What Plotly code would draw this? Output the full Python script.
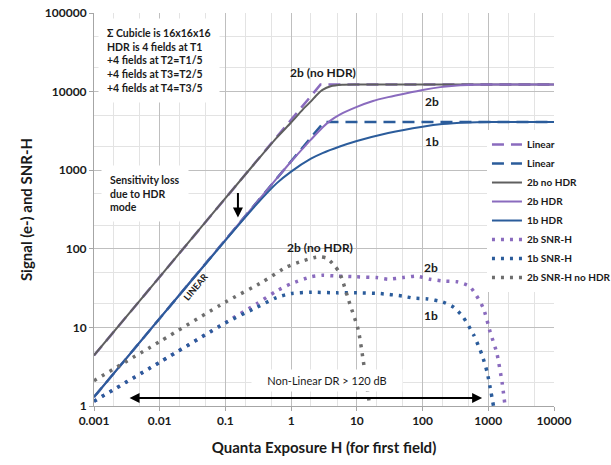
import plotly.graph_objects as go
import math

# ---------------- data ----------------
lin2b_H = [0.001, 2.8, 10000]
lin2b_S = [4.4, 12288, 12288]

lin1b_H = [0.001, 3.15, 10000]
lin1b_S = [1.3, 4096, 4096]

nohdr_H = [0.001, 0.01, 0.1, 0.3, 0.6, 1, 1.5, 2, 2.5, 3, 4, 6, 10, 20, 10000]
nohdr_S = [4.4, 44, 440, 1310, 2580, 4050, 5900, 7500, 9200, 10500, 11700, 12200, 12280, 12288, 12288]

hdr2b_H = [0.001, 0.01, 0.1, 0.3, 0.6, 1, 1.5, 2, 3, 4, 5.5, 10, 17.6, 30, 57, 100, 186, 335, 590, 1000, 10000]
hdr2b_S = [1.3, 13, 130, 390, 780, 1290, 1880, 2450, 3500, 4300, 5100, 6400, 7600, 8500, 9550, 10500, 11400, 12000, 12250, 12288, 12288]

hdr1b_H = [0.001, 0.01, 0.1, 0.3, 0.6, 1, 2, 3, 5.5, 10, 30, 100, 200, 500, 1000, 10000]
hdr1b_S = [1.3, 13, 128, 370, 680, 960, 1400, 1650, 2000, 2350, 2980, 3580, 3860, 4040, 4090, 4096]

snr2b_H = [0.001, 0.01, 0.1, 0.3, 0.6, 1, 2, 3, 5, 10, 20, 30, 50, 80, 130, 200, 335, 525, 830, 1070, 1350, 1620, 1800]
snr2b_S = [1.15, 3.6, 11.5, 20, 29, 36, 44, 46, 45, 44, 43, 41, 43, 45, 41, 39, 38, 33, 18, 8.7, 4.7, 2.0, 1.0]

snr1b_H = [0.001, 0.01, 0.1, 0.3, 0.6, 1, 2, 5, 10, 22, 50, 72, 120, 204, 300, 415, 600, 800, 960, 1100, 1200]
snr1b_S = [1.15, 3.6, 11.4, 18, 24, 27, 28, 27.5, 27.5, 27, 25, 23.6, 23, 21, 18, 13.5, 8, 4.5, 2.7, 1.5, 1.0]

snrnh_H = [0.001, 0.01, 0.1, 0.37, 0.86, 1.5, 2.2, 2.75, 3.5, 4.5, 5.5, 7.8, 10.5, 12.5, 14.8, 15.8]
snrnh_S = [2.1, 6.6, 21, 38, 59, 70, 77, 79, 76, 62, 49, 20, 9.3, 3.8, 1.4, 1.0]

x_tickvals = [0.001, 0.01, 0.1, 1, 10, 100, 1000, 10000]
x_ticktext = ["0.001", "0.01", "0.1", "1", "10", "100", "1000", "10000"]
y_tickvals = [1, 10, 100, 1000, 10000, 100000]
y_ticktext = ["1", "10", "100", "1000", "10000", "100000"]

PURPLE = "#8A6BBE"
BLUE = "#2B5C9B"
GRAY = "#5F5F5F"
GRAYDOT = "#6E6E6E"
FONT = "Lato"

fig = go.Figure()

def add(name, xs, ys, color, width, dash, shape="spline"):
    fig.add_trace(go.Scatter(
        x=xs, y=ys, name=name, mode="lines",
        line=dict(color=color, width=width, dash=dash, shape=shape, smoothing=0.6),
    ))

add("Linear", lin2b_H, lin2b_S, PURPLE, 2.5, "12px,7px", "linear")
add("Linear", lin1b_H, lin1b_S, BLUE, 2.5, "12px,7px", "linear")
add("2b no HDR", nohdr_H, nohdr_S, GRAY, 2, "solid")
add("2b HDR", hdr2b_H, hdr2b_S, PURPLE, 2, "solid")
add("1b HDR", hdr1b_H, hdr1b_S, BLUE, 2, "solid")
add("2b SNR-H", snr2b_H, snr2b_S, PURPLE, 3.5, "3px,6px")
add("1b SNR-H", snr1b_H, snr1b_S, BLUE, 3.5, "3px,6px")
add("2b SNR-H no HDR", snrnh_H, snrnh_S, GRAYDOT, 3.5, "3px,6px")

L = math.log10

def label(txt, px, py, size=12, weight="bold", angle=0):
    fig.add_annotation(x=L(px), y=L(py), xref="x", yref="y", text=txt, showarrow=False,
                       textangle=angle,
                       font=dict(family=FONT, size=size, color="#1a1a1a", weight=weight))

label("2b (no HDR)", 3.06, 17260)
label("2b", 140, 7380)
label("1b", 140, 2350)
label("2b (no HDR)", 2.75, 105)
label("2b", 135, 58.6)
label("1b", 135, 14)
label("LINEAR", 0.0357, 32.7, size=9, angle=-50)

# info box top-left
fig.add_annotation(
    x=0.0, y=1.0, xref="paper", yref="paper", xanchor="left", yanchor="top",
    xshift=4, yshift=-5,
    text="Σ Cubicle is 16x16x16<br>HDR is 4 fields at T1<br>+4 fields at T2=T1/5<br>+4 fields at T3=T2/5<br>+4 fields at T4=T3/5",
    showarrow=False, align="left", bgcolor="white", borderpad=8,
    font=dict(family=FONT, size=10.5, color="#1a1a1a", weight="bold"),
)
# sensitivity box
fig.add_annotation(
    x=0.0, y=L(1150), xref="paper", yref="y", xanchor="left", yanchor="top",
    xshift=7,
    text="Sensitivity loss<br>due to HDR<br>mode",
    showarrow=False, align="left", bgcolor="white", borderpad=8,
    font=dict(family=FONT, size=10.5, color="#1a1a1a", weight="bold"),
)
# arrow down
fig.add_annotation(x=L(0.155), y=L(250), xref="x", yref="y", ax=0, ay=-26,
                   showarrow=True, arrowhead=2, arrowsize=1, arrowwidth=2, arrowcolor="black", text="")
# non-linear DR box
fig.add_annotation(x=L(3.5), y=L(2.14), xref="x", yref="y",
                   text="    Non-Linear DR > 120 dB    ", showarrow=False,
                   bgcolor="white", borderpad=4,
                   font=dict(family=FONT, size=11, color="#1a1a1a"))
# double arrow
fig.add_annotation(x=L(805), y=L(1.26), ax=L(0.0033), ay=L(1.26), xref="x", yref="y",
                   axref="x", ayref="y", showarrow=True, arrowhead=2, startarrowhead=2,
                   arrowside="end+start", arrowsize=1, arrowwidth=2, arrowcolor="black", text="")

axis_common = dict(
    type="log", showgrid=True, gridcolor="#BFBFBF", gridwidth=1,
    minor=dict(showgrid=True, gridcolor="#E3E3E3", gridwidth=1),
    showline=True, linecolor="#A6A6A6", linewidth=1,
    ticks="outside", ticklen=4, tickcolor="#A6A6A6",
    tickfont=dict(family=FONT, size=12, color="#1a1a1a", weight="bold"),
    zeroline=False, automargin=False,
)

fig.update_layout(
    width=611, height=465,
    margin=dict(l=94, r=57, t=13, b=59, autoexpand=False),
    paper_bgcolor="white", plot_bgcolor="white",
    xaxis=dict(axis_common, range=[-3, 4], tickvals=x_tickvals, ticktext=x_ticktext,
               title=dict(text="Quanta Exposure H (for first field)", standoff=15,
                          font=dict(family=FONT, size=15, color="#1a1a1a", weight="bold"))),
    yaxis=dict(axis_common, range=[0, 5], tickvals=y_tickvals, ticktext=y_ticktext,
               title=dict(text="Signal (e-) and SNR-H", standoff=8,
                          font=dict(family=FONT, size=15, color="#1a1a1a", weight="bold"))),
    legend=dict(xref="container", yref="container", x=0.797, y=0.7204,
                xanchor="left", yanchor="top", bgcolor="white",
                font=dict(family=FONT, size=10, color="#1a1a1a", weight="bold"),
                itemwidth=30, tracegroupgap=0),
    showlegend=True,
)

fig.write_html("out.html")
